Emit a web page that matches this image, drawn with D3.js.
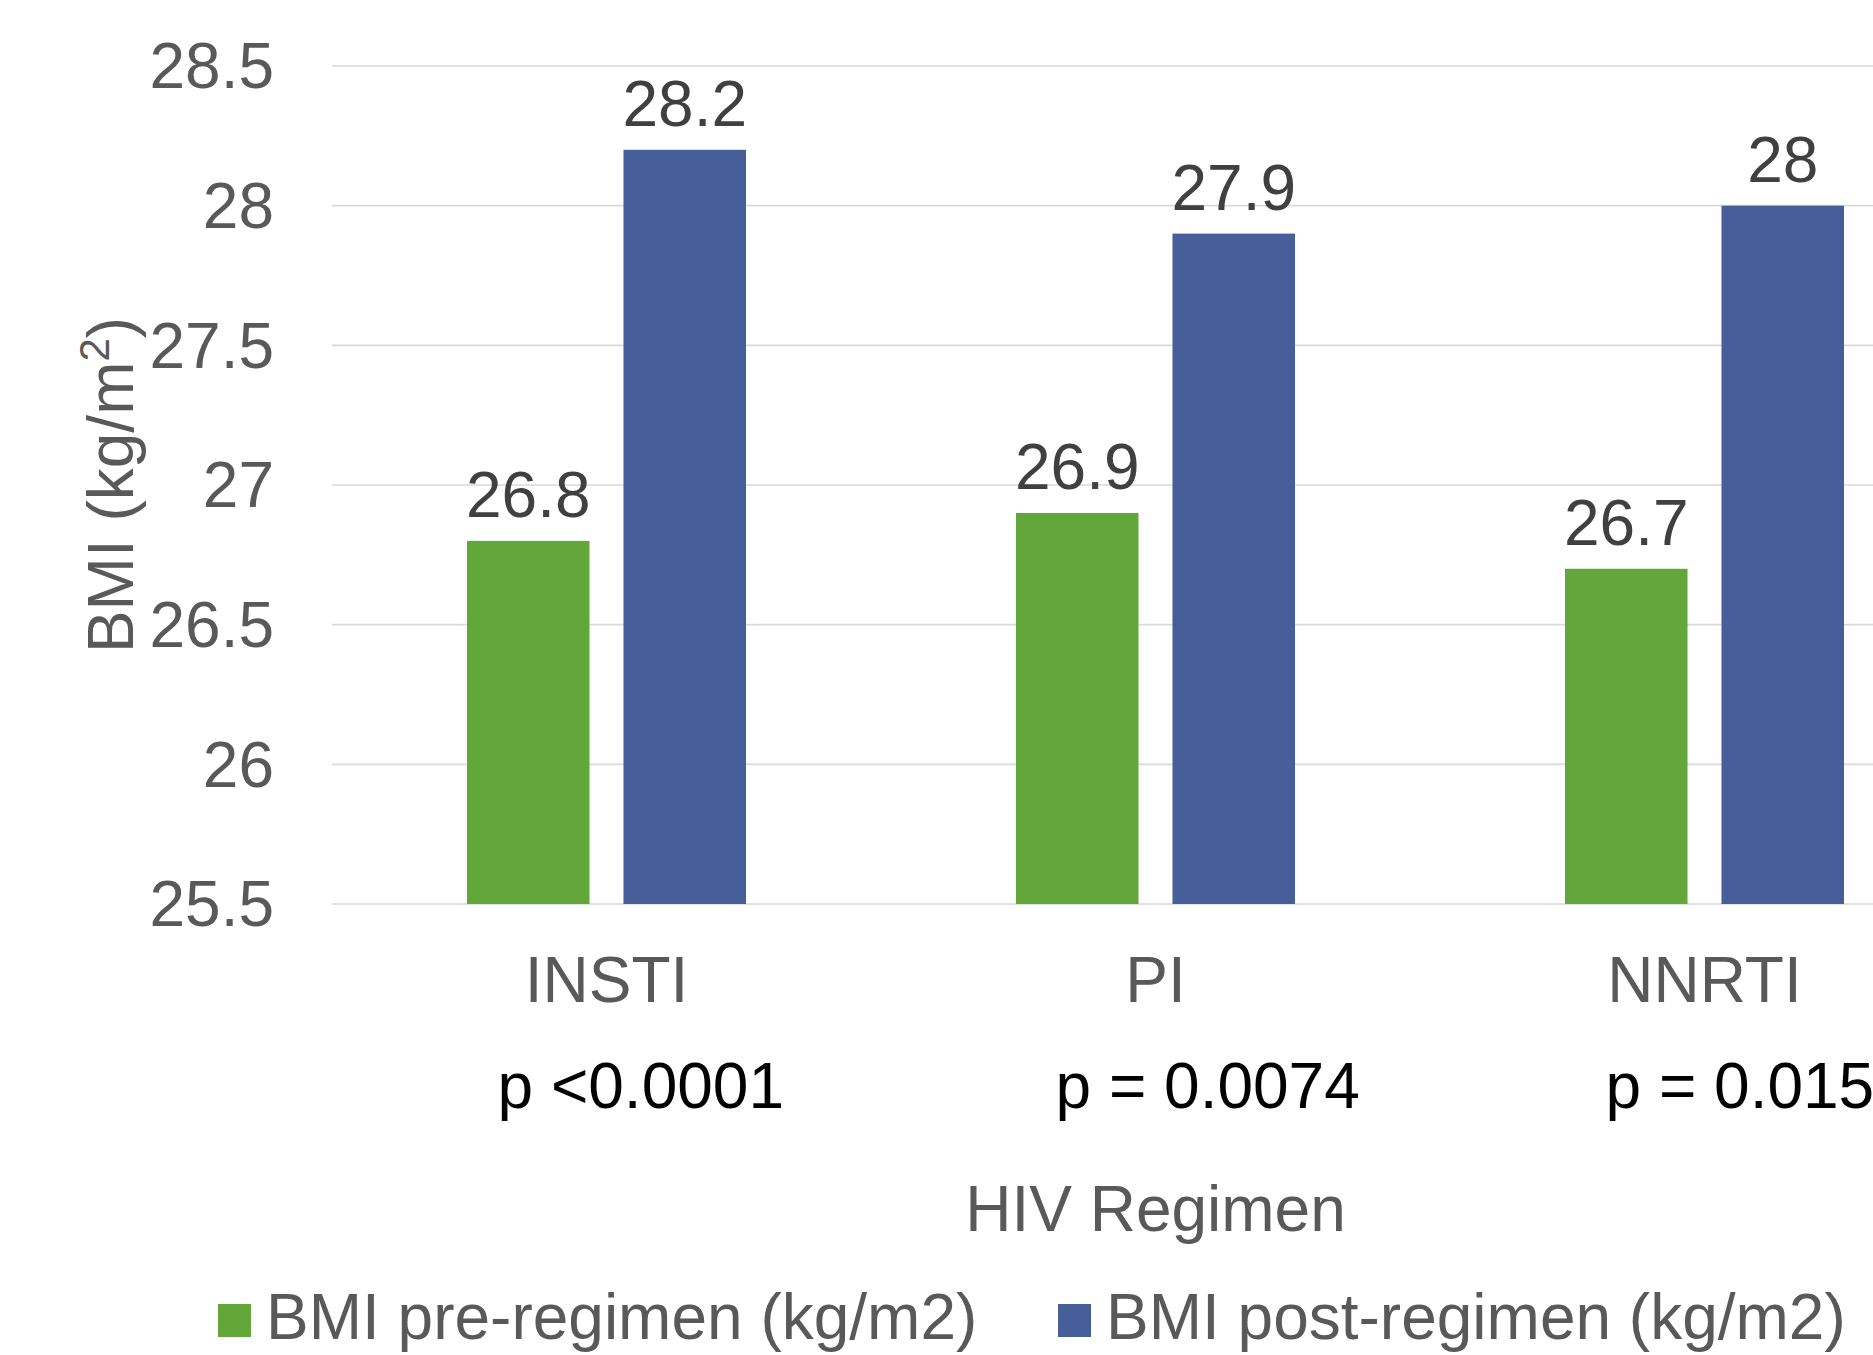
<!DOCTYPE html>
<html>
<head>
<meta charset="utf-8">
<script src="https://cdn.jsdelivr.net/npm/d3@7"></script>
<style>
  html, body { margin: 0; padding: 0; background: #ffffff; }
  svg { display: block; font-family: "Liberation Sans", Arial, sans-serif; }
</style>
</head>
<body>
<svg id="chart" width="1873" height="1355"></svg>
<script>
const categories = ["INSTI", "PI", "NNRTI"];
const seriesNames = ["BMI pre-regimen (kg/m2)", "BMI post-regimen (kg/m2)"];
const preValues = [26.8, 26.9, 26.7];
const postValues = [28.2, 27.9, 28.0];
const tickValues = [25.5, 26, 26.5, 27, 27.5, 28, 28.5];
const tickLabels = ["25.5", "26", "26.5", "27", "27.5", "28", "28.5"];
const pLabels = ["p <0.0001", "p = 0.0074", "p = 0.015"];
const seriesColors = ["#63A73A", "#465E9A"];

const svg = d3.select("#chart");
const plot = { left: 332, right: 1979, top: 66, bottom: 904 };

const x = d3.scaleBand().domain(categories).range([plot.left, plot.right]).paddingInner(0).paddingOuter(0);
const xInner = d3.scaleBand().domain(seriesNames).range([135, 414]).paddingInner(0.217).paddingOuter(0);
const y = d3.scaleLinear().domain([25.5, 28.5]).range([plot.bottom, plot.top]);

// gridlines
svg.append("g").selectAll("line").data(tickValues).join("line")
  .attr("x1", plot.left).attr("x2", plot.right)
  .attr("y1", d => y(d)).attr("y2", d => y(d))
  .attr("stroke", "#D9D9D9").attr("stroke-width", 1.6);

// y axis labels
const yAxis = d3.axisLeft(y).tickValues(tickValues)
  .tickFormat((d, i) => tickLabels[i]).tickSize(0).tickPadding(0);
const gy = svg.append("g").attr("transform", `translate(274,0)`).call(yAxis);
gy.select(".domain").remove();
gy.selectAll("text").attr("font-size", 64).attr("fill", "#595959")
  .attr("font-family", "Liberation Sans, Arial, sans-serif")
  .attr("dy", "0.34em").attr("x", 0);

// bars
const rows = categories.map((c, i) => ({ cat: c, vals: [preValues[i], postValues[i]] }));
const groups = svg.append("g").selectAll("g").data(rows).join("g")
  .attr("transform", d => `translate(${x(d.cat)},0)`);
groups.selectAll("rect").data(d => d.vals.map((v, j) => ({ v, s: seriesNames[j], j }))).join("rect")
  .attr("x", d => xInner(d.s)).attr("width", xInner.bandwidth())
  .attr("y", d => y(d.v)).attr("height", d => plot.bottom - y(d.v))
  .attr("fill", d => seriesColors[d.j]);
groups.selectAll("text.val").data(d => d.vals.map((v, j) => ({ v, s: seriesNames[j], j }))).join("text")
  .attr("class", "val")
  .attr("x", d => xInner(d.s) + xInner.bandwidth() / 2)
  .attr("y", d => y(d.v) - 24)
  .attr("text-anchor", "middle").attr("font-size", 64).attr("fill", "#404040")
  .text(d => d3.format("")(d.v).replace(/\.0$/, ""));

// x axis category labels
const xAxis = d3.axisBottom(x).tickSize(0).tickPadding(0);
const gx = svg.append("g").attr("transform", `translate(0,${plot.bottom})`).call(xAxis);
gx.select(".domain").remove();
gx.selectAll("text").attr("font-size", 64).attr("fill", "#595959")
  .attr("font-family", "Liberation Sans, Arial, sans-serif")
  .attr("y", 98).attr("dy", 0);

// p-value labels (layout offsets from category centre)
const pOffsets = [-109, -100, -99];
svg.append("g").selectAll("text").data(pLabels).join("text")
  .attr("x", (d, i) => x(categories[i]) + x.bandwidth() / 2 + pOffsets[i])
  .attr("y", 1108).attr("font-size", 64).attr("fill", "#000000")
  .text(d => d);

// axis titles
svg.append("text").attr("x", (plot.left + plot.right) / 2).attr("y", 1231)
  .attr("text-anchor", "middle").attr("font-size", 64).attr("fill", "#595959")
  .text("HIV Regimen");

const yt = svg.append("text")
  .attr("transform", `translate(133,${(plot.top + plot.bottom) / 2}) rotate(-90)`)
  .attr("text-anchor", "middle").attr("font-size", 64).attr("fill", "#595959");
yt.append("tspan").text("BMI (kg/m");
yt.append("tspan").attr("font-size", 42).attr("dy", -24).text("2");
yt.append("tspan").attr("dy", 24).text(")");

// legend
const legendX = [218, 1058];
const lg = svg.append("g").selectAll("g").data(seriesNames).join("g")
  .attr("transform", (d, i) => `translate(${legendX[i]},0)`);
lg.append("rect").attr("x", 0).attr("y", 1304).attr("width", 33).attr("height", 33)
  .attr("fill", (d, i) => seriesColors[i]);
lg.append("text").attr("x", 48).attr("y", 1339).attr("font-size", 64).attr("fill", "#595959")
  .text(d => d);
</script>
</body>
</html>
